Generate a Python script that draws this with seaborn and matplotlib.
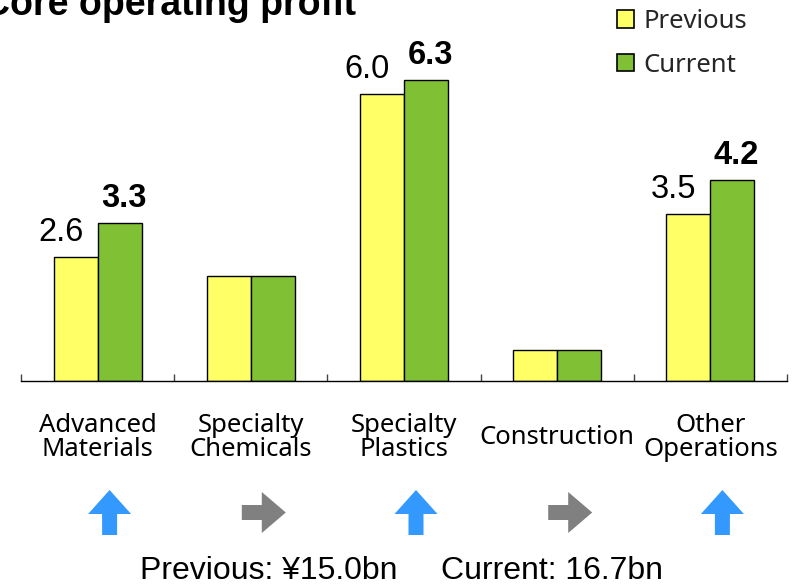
import matplotlib
matplotlib.use("Agg")
import matplotlib.pyplot as plt
import matplotlib.transforms as mtransforms
from matplotlib.patches import Polygon, Patch
import seaborn as sns
import pandas as pd

# ---- data ----
categories = ["Advanced\nMaterials", "Specialty\nChemicals", "Specialty\nPlastics",
              "Construction", "Other\nOperations"]
series_names = ["Previous", "Current"]
previous = [2.6, 2.2, 6.0, 0.65, 3.5]
current = [3.3, 2.2, 6.3, 0.65, 4.2]
previous_labels = ["2.6", "", "6.0", "", "3.5"]
current_labels = ["3.3", "", "6.3", "", "4.2"]
total_previous = "¥15.0bn"
total_current = "16.7bn"
title = "Core operating profit"

YELLOW = "#FFFF66"
GREEN = "#80C034"
BLUE = "#3399FF"
GRAY = "#808080"

W, H, DPI = 794, 587, 100

sns.set_theme(style="white")
plt.rcParams["font.family"] = ["Liberation Sans", "DejaVu Sans"]

fig = plt.figure(figsize=(W / DPI, H / DPI), dpi=DPI)
fig.patch.set_facecolor("white")
base_y = 381
ax = fig.add_axes([21 / W, (H - base_y) / H, 766 / W, base_y / H])

df = pd.DataFrame({
    "category": categories * 2,
    "series": [series_names[0]] * len(categories) + [series_names[1]] * len(categories),
    "value": previous + current,
})

sns.barplot(data=df, x="category", y="value", hue="series", order=categories,
            hue_order=series_names, palette=[YELLOW, GREEN], saturation=1,
            width=0.575, gap=0, edgecolor="black", linewidth=1.0,
            legend=False, ax=ax, errorbar=None)

ax.set_ylim(0, base_y / 47.8)
ax.set_xlim(-0.5, len(categories) - 0.5)
ax.set_xlabel("")
ax.set_ylabel("")
ax.set_yticks([])
sns.despine(ax=ax, left=True)
ax.spines["bottom"].set_color("black")
ax.spines["bottom"].set_linewidth(1.0)

# category labels
ax.set_xticks(range(len(categories)))
ax.set_xticklabels(categories, fontfamily="Noto Sans", fontsize=18.5, linespacing=0.95)
ax.set_xticks([i - 0.5 for i in range(len(categories) + 1)], minor=True)
ax.tick_params(axis="x", which="major", length=0, pad=41, bottom=True)
ax.tick_params(axis="x", which="minor", direction="in", length=5, width=1,
               color="#444444", bottom=True)
for lbl in ax.get_xticklabels():
    lbl.set_va("center")
    lbl.set_color("black")

# value labels
for cont, labels, dx, weight in [(ax.containers[0], previous_labels, -15, "normal"),
                                 (ax.containers[1], current_labels, 4, "bold")]:
    for bar, lab in zip(cont, labels):
        if not lab:
            continue
        ax.annotate(lab, (bar.get_x() + bar.get_width() / 2, bar.get_height()),
                    xytext=(dx, 16), textcoords="offset pixels", ha="center",
                    va="baseline", fontsize=23.5, fontweight=weight, color="black")

# change arrows
up_verts = [(0, -109), (21.5, -133), (7.5, -133), (7.5, -154), (-7.5, -154),
            (-7.5, -133), (-21.5, -133)]
up_verts = [(x + 12, y) for x, y in up_verts]
right_verts = [(-9, -124), (11, -124), (11, -111), (35, -131.5), (11, -152),
               (11, -139), (-9, -139)]
down_verts = [(x, -263 - y) for x, y in up_verts]
for i, (p, c) in enumerate(zip(previous, current)):
    if c > p:
        verts, col = up_verts, BLUE
    elif c < p:
        verts, col = down_verts, BLUE
    else:
        verts, col = right_verts, GRAY
    tr = mtransforms.IdentityTransform() + mtransforms.ScaledTranslation(i, 0, ax.transData)
    poly = Polygon(verts, closed=True, facecolor=col, edgecolor="none",
                   transform=tr, clip_on=False)
    ax.add_patch(poly)

# legend
handles = [Patch(facecolor=YELLOW, edgecolor="black", linewidth=1.2),
           Patch(facecolor=GREEN, edgecolor="black", linewidth=1.2)]
ax.legend(handles=handles, labels=series_names, loc="upper left",
          bbox_to_anchor=(617 / W, 1 - 9 / H), bbox_transform=fig.transFigure,
          frameon=False, borderpad=0, borderaxespad=0, handlelength=0.66,
          handleheight=0.66, handletextpad=0.36, labelspacing=0.72,
          prop={"family": "Noto Sans", "size": 18.5})

# title and totals
fig.text(-17 / W, 1 - 15 / H, title, fontsize=27, fontweight="bold",
         ha="left", va="baseline", color="black")
fig.text(140 / W, 1 - 579 / H, "Previous: " + total_previous, fontsize=23,
         ha="left", va="baseline", color="black")
fig.text(441 / W, 1 - 579 / H, "Current: " + total_current, fontsize=23,
         ha="left", va="baseline", color="black")

fig.savefig("out.png", dpi=DPI, facecolor="white")
